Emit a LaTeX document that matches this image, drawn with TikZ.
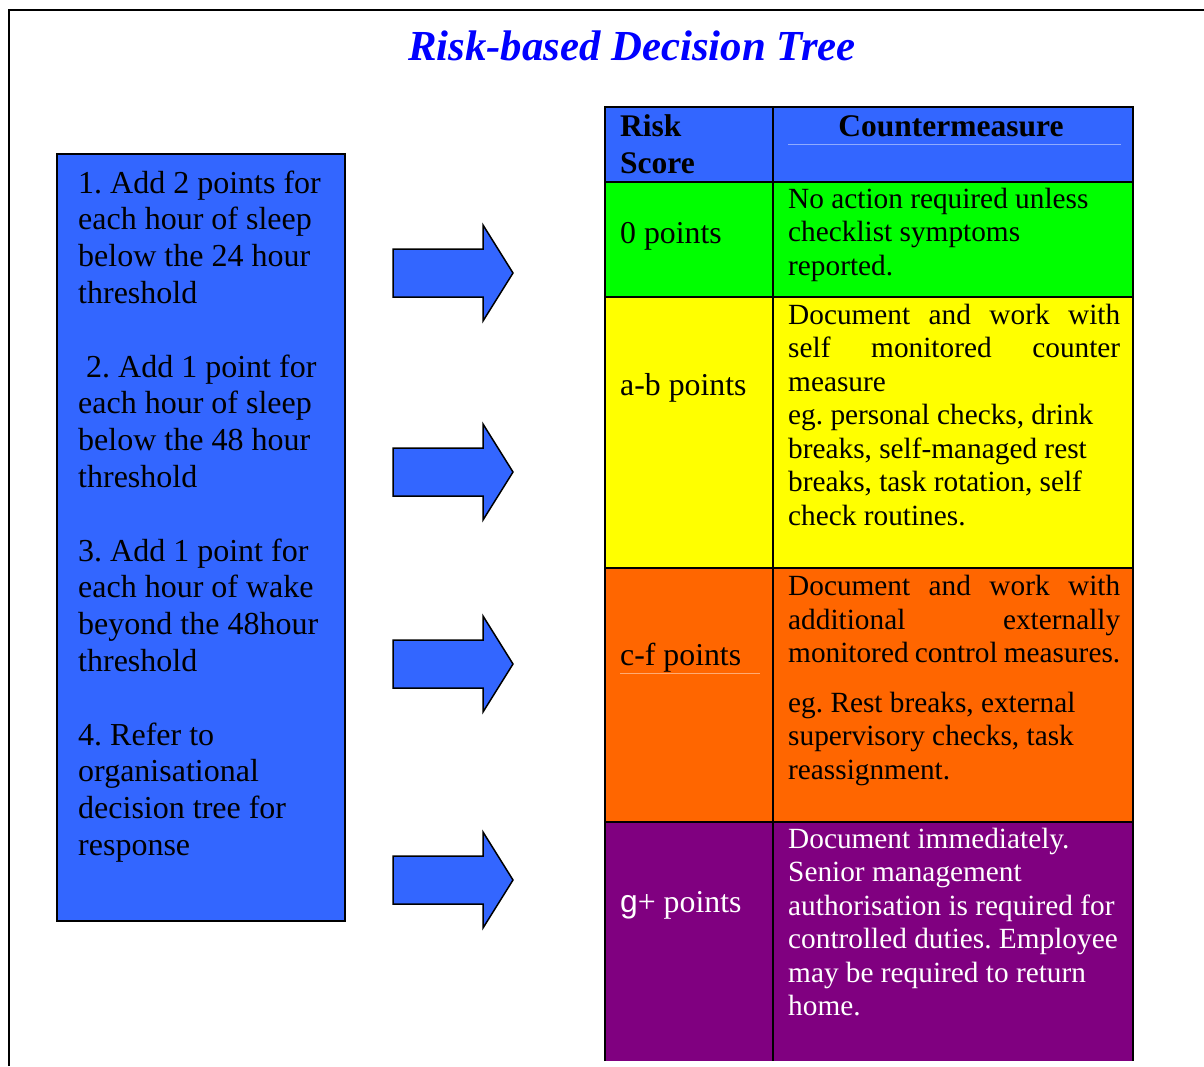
\documentclass[tikz,border=0pt]{standalone}
\usepackage{fontspec}
\setmainfont{Liberation Serif}
\newfontfamily\arialfont{Liberation Sans}
\usepackage{tikz}
\usetikzlibrary{calc,positioning}
\usepackage{xcolor}
\definecolor{boxblue}{RGB}{51,102,255}
\definecolor{titleblue}{RGB}{0,0,255}
\definecolor{riskgreen}{RGB}{0,255,0}
\definecolor{riskyellow}{RGB}{255,255,0}
\definecolor{riskorange}{RGB}{255,102,0}
\definecolor{riskpurple}{RGB}{128,0,128}
\frenchspacing
\tikzset{
  plain text/.style={inner sep=0pt, anchor=base west},
  step text/.style={plain text, font=\fontsize{32}{36.7}\selectfont},
  cell text/.style={plain text, font=\fontsize{29.3}{33.5}\selectfont},
  score text/.style={plain text, font=\fontsize{31.8}{36}\selectfont},
  header text/.style={plain text, font=\bfseries\fontsize{31.5}{36.6}\selectfont},
  table rule/.style={line width=2.5pt},
  faint rule/.style={line width=0.8pt},
  blockarrow/.style={fill=boxblue, draw=black, line width=1.5pt, line join=miter}
}

\begin{document}
\begin{tikzpicture}[x=1pt,y=-1pt]
  \useasboundingbox (0,0) rectangle (1204,1066);
  % frame
  \draw[line width=2pt] (9,1066) -- (9,10) -- (1204,10);

  \node[plain text, anchor=base, text=titleblue,
        font=\bfseries\itshape\fontsize{42.8}{50}\selectfont]
    (title) at (632,60) {Risk-based Decision Tree};

  % scoring rules
  \filldraw[fill=boxblue, line width=2pt] (57,154) rectangle (345,921);
  \node[step text] (step1) at (78,193) {\parbox[t]{260pt}{1. Add 2 points for\\
    each hour of sleep\\ below the 24 hour\\ threshold}};
  \node[step text] (step2) at (78,377) {\parbox[t]{260pt}{\hspace*{8pt}2. Add 1 point for\\
    each hour of sleep\\ below the 48 hour\\ threshold}};
  \node[step text] (step3) at (78,561) {\parbox[t]{260pt}{3. Add 1 point for\\
    each hour of wake\\ beyond the 48hour\\ threshold}};
  \node[step text] (step4) at (78,745) {\parbox[t]{260pt}{4. Refer to\\
    organisational\\ decision tree for\\ response}};

  \foreach \ay in {273,472,664,880}
    \draw[blockarrow] (393,\ay-24) -- (483,\ay-24) -- (483,\ay-48) -- (513,\ay)
      -- (483,\ay+48) -- (483,\ay+24) -- (393,\ay+24) -- cycle;

  % table
  \fill[boxblue] (605,107) rectangle (1133,182);
  \fill[riskgreen] (605,182) rectangle (1133,297);
  \fill[riskyellow] (605,297) rectangle (1133,568);
  \fill[riskorange] (605,568) rectangle (1133,822);
  \fill[riskpurple] (605,822) rectangle (1133,1061);
  \draw[faint rule, boxblue!55!white] (788,144) -- (1121,144);
  \draw[faint rule, riskorange!55!white] (620,673) -- (760,673);
  \draw[table rule] (605,1061) -- (605,107) -- (1133,107) -- (1133,1061);
  \foreach \ry in {182,297,568,822}
    \draw[table rule] (605,\ry) -- (1133,\ry);
  \draw[table rule] (773,107) -- (773,1061);

  \node[header text] (hdrscore) at (620,136.7) {\parbox[t]{140pt}{Risk\\ Score}};
  \node[header text, anchor=base] (hdrcounter) at (951,136.7) {Countermeasure};

  \node[score text] (score0) at (620,243) {0 points};
  \node[score text] (scoreab) at (620,395) {a-b points};
  \node[score text] (scorecf) at (620,665) {c-f points};
  \node[score text, text=white] (scoreg) at (620,912) {{\arialfont g}+ points};

  \node[cell text] (act0) at (788,208.3) {\parbox[t]{332pt}{No action required unless\\
    checklist symptoms\\ reported.}};
  \node[cell text] (actab) at (788,324.3) {\parbox[t]{332pt}{%
    \makebox[\linewidth][s]{Document and work with}\\
    \makebox[\linewidth][s]{self monitored counter}\\
    measure\\ eg. personal checks, drink\\ breaks, self-managed rest\\
    breaks, task rotation, self\\ check routines.}};
  \node[cell text] (actcf) at (788,595.5) {\parbox[t]{332pt}{%
    \makebox[\linewidth][s]{Document and work with}\\
    \makebox[\linewidth][s]{additional externally}\\
    monitored control measures.\\[16pt]
    eg. Rest breaks, external\\ supervisory checks, task\\ reassignment.}};
  \node[cell text, text=white] (actg) at (788,848.3) {\parbox[t]{332pt}{Document immediately.\\
    Senior management\\ authorisation is required for\\ controlled duties. Employee\\
    may be required to return\\ home.}};
\end{tikzpicture}
\end{document}
